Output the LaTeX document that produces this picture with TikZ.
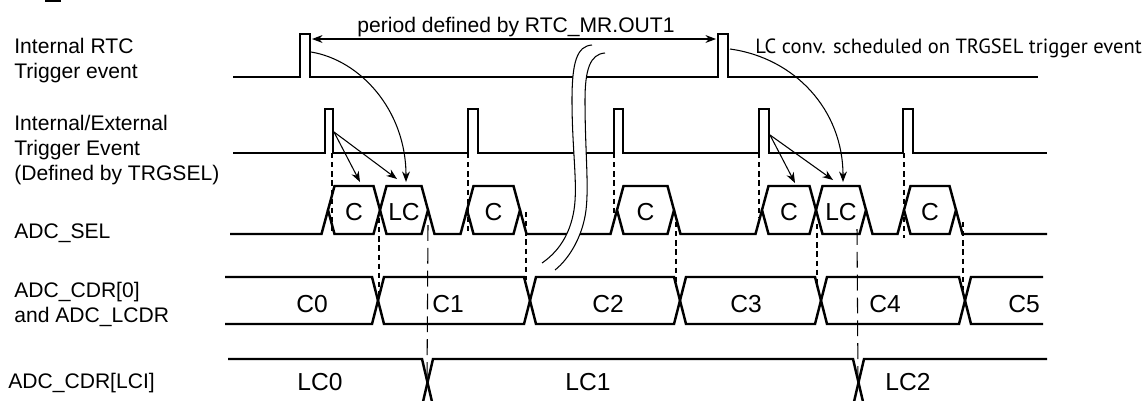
\documentclass[tikz,border=0pt]{standalone}
\usepackage{fontspec}
\setmainfont{Liberation Sans}
\newfontfamily\notefont{PT Sans}
\usetikzlibrary{arrows.meta, positioning, calc}

\begin{document}
\begin{tikzpicture}[
  x=0.02cm, y=-0.02cm,
  wave/.style={line width=1.4pt, line join=miter},
  guide/.style={line width=0.6pt, dash pattern=on 3pt off 2.2pt},
  longguide/.style={line width=0.6pt, dash pattern=on 9pt off 4pt},
  arrow/.style={->, line width=0.6pt, >={Stealth[length=6pt,width=4.5pt]}},
  brk/.style={line width=0.6pt},
  sig/.style={anchor=base west, align=left, inner sep=0pt, font=\fontsize{12}{14.2}\selectfont},
  val/.style={anchor=base, inner sep=0pt, font=\fontsize{14}{16}\selectfont}
]
  \useasboundingbox (0,0) rectangle (1145,400);
  \clip (0,0) rectangle (1145,400);
  \draw[line width=1.2pt] (45,1) -- (61,1);

  \node[sig] (rtclbl) at (14,78) {Internal RTC\\Trigger event};
  \node[sig] (trglbl) at (14,180) {Internal/External\\Trigger Event\\(Defined by TRGSEL)};
  \node[sig] (sellbl) at (14,238) {ADC\_SEL};
  \node[sig] (cdrlbl) at (14,322) {ADC\_CDR[0]\\and ADC\_LCDR};
  \node[sig] (lcilbl) at (8,388) {ADC\_CDR[LCI]};

  % RTC trigger
  \draw[wave] (233,77) -- (300,77) -- (300,34) -- (310,34) -- (310,77) -- (718,77)
    -- (718,34) -- (728,34) -- (728,77) -- (1038,77);
  % TRGSEL trigger
  \draw[wave] (233,153) -- (325,153) -- (325,109) -- (333,109) -- (333,153)
    -- (468,153) -- (468,109) -- (478,109) -- (478,153)
    -- (614,153) -- (614,109) -- (623,109) -- (623,153)
    -- (759,153) -- (759,109) -- (769,109) -- (769,153)
    -- (903,153) -- (903,109) -- (913,109) -- (913,153) -- (1047,153);
  % ADC_SEL
  \draw[wave] (230,234) -- (321.5,234) -- (328,210);
  \draw[wave] (428,210) -- (434.5,234) -- (460.5,234) -- (467,210);
  \draw[wave] (520,210) -- (526.5,234) -- (610.5,234) -- (617,210);
  \draw[wave] (674,210) -- (680.5,234) -- (755.5,234) -- (762,210);
  \draw[wave] (866,210) -- (872.5,234) -- (897.5,234) -- (904,210);
  \draw[wave] (956,210) -- (962.5,234) -- (1047,234);
  \foreach \a/\b/\t [count=\i] in {328/380/C, 380/428/LC, 467/520/C, 617/674/C,
      762/816/C, 816/866/LC, 904/956/C} {
    \draw[wave] (\a,210) -- (\a+6.5,186) -- (\b-6.5,186) -- (\b,210)
      -- (\b-6.5,234) -- (\a+6.5,234) -- cycle;
    \node[val] (sel\i) at ({(\a+\b)/2},220) {\t};
  }
  % ADC_CDR[0]
  \draw[wave] (225,277) -- (372,277) -- (384,324) -- (524,324) -- (536,277) -- (674,277)
    -- (686,324) -- (815,324) -- (827,277) -- (959,277) -- (971,324) -- (1043,324);
  \draw[wave] (225,324) -- (372,324) -- (384,277) -- (524,277) -- (536,324) -- (674,324)
    -- (686,277) -- (815,277) -- (827,324) -- (959,324) -- (971,277) -- (1043,277);
  \foreach \x/\t [count=\i] in {312/C0, 448/C1, 608/C2, 746/C3, 885/C4, 1024/C5}
    \node[val] (cdr\i) at (\x,312) {\t};
  % ADC_CDR[LCI]
  \draw[wave] (228,359) -- (422,359) -- (433,406) -- (853,406) -- (864,359) -- (1047,359);
  \draw[wave] (228,406) -- (422,406) -- (433,359) -- (853,359) -- (864,406) -- (1047,406);
  \foreach \x/\t [count=\i] in {320/LC0, 588/LC1, 908/LC2}
    \node[val] (lci\i) at (\x,390) {\t};

  % guides
  \draw[guide] (332,153) -- (332,232);
  \draw[guide] (468,153) -- (468,233);
  \draw[guide] (614,153) -- (614,215);
  \draw[guide] (759,153) -- (759,217);
  \draw[guide] (904,153) -- (904,238);
  \draw[guide] (379,218) -- (379,300);
  \draw[guide] (526,212) -- (526,280);
  \draw[guide] (676,222) -- (676,283);
  \draw[guide] (817,224) -- (817,285);
  \draw[guide] (963,222) -- (963,290);
  \draw[longguide] (428,225) -- (427,382);
  \draw[longguide] (857,229) -- (858,382);

  % break
  \fill[white] (592,45) .. controls (577,46) and (572,62) .. (572,100)
    .. controls (572,150) and (578,185) .. (574,210)
    .. controls (570,235) and (558,252) .. (542,263)
    -- (555,270) .. controls (570,258) and (583,235) .. (586,210)
    .. controls (589,185) and (585,150) .. (585,100)
    .. controls (585,70) and (590,54) .. (605,53) -- cycle;
  \draw[brk] (592,45) .. controls (577,46) and (572,62) .. (572,100)
    .. controls (572,150) and (578,185) .. (574,210)
    .. controls (570,235) and (558,252) .. (542,263);
  \draw[brk] (605,53) .. controls (590,54) and (585,70) .. (585,100)
    .. controls (585,150) and (589,185) .. (586,210)
    .. controls (583,235) and (570,258) .. (555,270);

  % period and note
  \coordinate (perA) at (312,39);
  \coordinate (perB) at (716,39);
  \draw[arrow, <->] (perA) -- (perB);
  \node[anchor=base, inner sep=0pt, font=\fontsize{12}{14}\selectfont] (perlbl) at (516,32)
    {period defined by RTC\_MR.OUT1};
  \node[anchor=base west, inner sep=0pt, font=\notefont\fontsize{11.7}{14}\selectfont] (note)
    at (755,53) {LC conv. scheduled on TRGSEL trigger event};

  % trigger arrows
  \coordinate (trgA) at (334,132);
  \coordinate (trgB) at (770,135);
  \coordinate (rtcA) at (311,52);
  \coordinate (rtcB) at (730,49);
  \coordinate (hexA) at (360,182);
  \coordinate (hexB) at (397,179);
  \coordinate (hexC) at (406,182);
  \coordinate (hexD) at (795,183);
  \coordinate (hexE) at (833,180);
  \coordinate (hexF) at (843,182);
  \draw[arrow] (trgA) -- (hexA);
  \draw[arrow] (trgA) -- (hexB);
  \draw[arrow] (rtcA) .. controls (360,60) and (406,110) .. (hexC);
  \draw[arrow] (trgB) -- (hexD);
  \draw[arrow] (trgB) -- (hexE);
  \draw[arrow] (rtcB) .. controls (795,58) and (843,110) .. (hexF);
\end{tikzpicture}
\end{document}
